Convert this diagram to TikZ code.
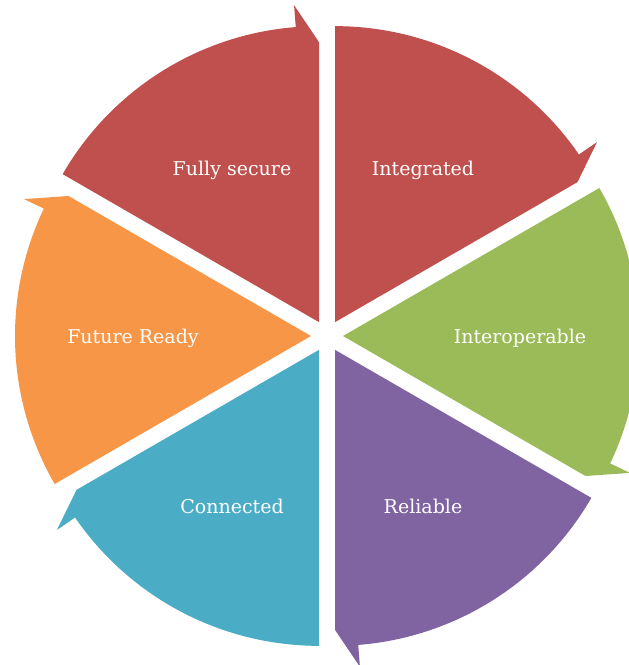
\documentclass[tikz,border=0pt]{standalone}
\usepackage{fontspec}
\setmainfont{DejaVu Serif}
\usetikzlibrary{calc}
\definecolor{segRed}{HTML}{C0504D}
\definecolor{segGreen}{HTML}{9BBB59}
\definecolor{segPurple}{HTML}{8064A2}
\definecolor{segTeal}{HTML}{4BACC6}
\definecolor{segOrange}{HTML}{F79646}
\begin{document}
\begin{tikzpicture}[x=1pt,y=1pt,
  seglabel/.style={text=white, font=\fontsize{19}{23}\selectfont, inner sep=0pt}]
\clip (0,0) rectangle (629,665);
\fill[white] (0,0) rectangle (629,665);
\coordinate (C) at (327,329);
\foreach \a/\col/\n in {30/segRed/int, 90/segRed/fs, 150/segOrange/fr, 210/segTeal/con, 270/segPurple/rel, 330/segGreen/iop} {
  \coordinate (apex-\n) at ($(C)+(\a+30:16pt)$);
  \fill[\col] (apex-\n) -- ($(apex-\n)+(\a:280pt)$) -- ($(apex-\n)+(\a+4.5:318pt)$) -- ($(apex-\n)+(\a+4.5:296pt)$) arc[start angle=\a+4.5, end angle=\a+60, radius=296pt] -- cycle;
}
\node[seglabel] (fs) at (232,495) {Fully secure};
\node[seglabel] (int) at (423,495) {Integrated};
\node[seglabel] (fr) at (133,327) {Future Ready};
\node[seglabel] (iop) at (520,327) {Interoperable};
\node[seglabel] (con) at (232,159) {Connected};
\node[seglabel] (rel) at (423,159) {Reliable};
\end{tikzpicture}
\end{document}
